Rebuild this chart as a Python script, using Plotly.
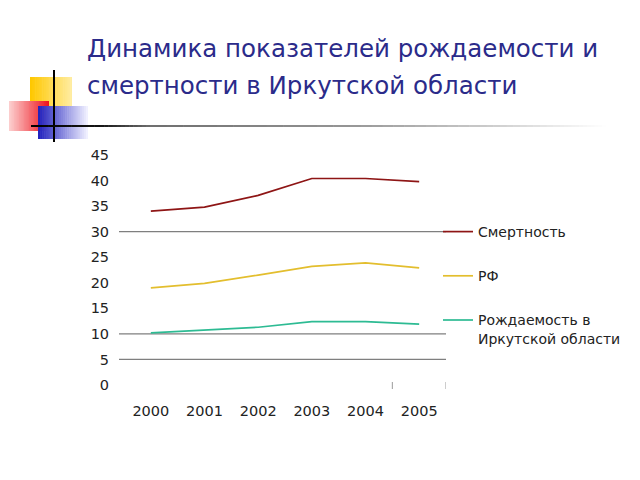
import plotly.graph_objects as go

# ---- data ----
years = ["2000", "2001", "2002", "2003", "2004", "2005"]
mortality = [34.0, 34.8, 37.1, 40.4, 40.4, 39.8]
birth_rf = [19.0, 19.9, 21.5, 23.2, 23.9, 22.9]
birth_irk = [10.2, 10.7, 11.3, 12.4, 12.4, 11.9]
series_names = ["Смертность", "РФ", "Рождаемость в<br>Иркутской области"]
y_ticks = [0, 5, 10, 15, 20, 25, 30, 35, 40, 45]
grid_values = [5, 10, 30]
title_lines = ["Динамика показателей рождаемости и", "смертности в Иркутской области"]

W, H = 640, 480
OFF = 8  # page body margin offset
# plot area in screen pixels: x 124..446, y 155..385
L = 124 - OFF
R = W - (446 - OFF)
T = 155 - OFF
B = H - (385 - OFF)
PW, PH = W - L - R, H - T - B


def px(x):
    return (x - OFF - L) / PW


def py(y):
    return (H - B - (y - OFF)) / PH


FONT = "DejaVu Sans"
colors = ["#8E1515", "#E3BE2E", "#2DBB93"]

fig = go.Figure()
for i, (name, vals) in enumerate(zip(series_names, [mortality, birth_rf, birth_irk])):
    fig.add_trace(go.Scatter(
        x=years, y=vals, name=name, mode="lines",
        line=dict(color=colors[i], width=1.7),
        legendgroup=f"g{i}",
    ))

shapes = []
# gridlines
for g in grid_values:
    shapes.append(dict(type="line", xref="paper", yref="y",
                       x0=px(119), x1=px(446), y0=g, y1=g,
                       line=dict(color="#7f7f7f", width=1.2), layer="below"))
# small category ticks
for c in [4.5, 5.5]:
    shapes.append(dict(type="line", xref="x", yref="paper",
                       x0=c, x1=c, y0=py(382), y1=py(389),
                       line=dict(color="#9a9a9a", width=1)))


def mix(c0, c1, t):
    return tuple(int(round(a + (b - a) * t)) for a, b in zip(c0, c1))


# decoration: gradient squares via overlapping strips
def grad_rect(x0, x1, y0, y1, c_start, c_end, n=24):
    out = []
    step = (x1 - x0) / n
    for k in range(n):
        col = mix(c_start, c_end, k / (n - 1))
        a0 = x0 + step * k
        a1 = a0 + step + 0.6 if k < n - 1 else x1
        out.append(dict(type="rect", xref="paper", yref="paper",
                        x0=px(a0), x1=px(a1), y0=py(y1), y1=py(y0),
                        fillcolor="rgb(%d,%d,%d)" % col, line=dict(width=0)))
    return out


shapes += grad_rect(30, 72, 77, 107, (255, 200, 0), (255, 236, 160))
shapes += grad_rect(9, 49, 101, 131, (252, 205, 205), (238, 20, 30))
shapes += grad_rect(38, 88, 106, 139, (35, 35, 190), (240, 240, 255))
# vertical black line
shapes.append(dict(type="line", xref="paper", yref="paper",
                   x0=px(54), x1=px(54), y0=py(70), y1=py(142),
                   line=dict(color="#000000", width=2)))
# horizontal fading line
stops = [(31, 0), (100, 20), (150, 110), (350, 150), (480, 200), (560, 235), (606, 255)]
for (a, ca), (b, cb) in zip(stops[:-1], stops[1:]):
    n = 12
    for k in range(n):
        xa = a + (b - a) * k / n
        xb = a + (b - a) * (k + 1) / n + 0.5
        c = int(round(ca + (cb - ca) * (k + 0.5) / n))
        shapes.append(dict(type="line", xref="paper", yref="paper",
                           x0=px(xa), x1=px(xb), y0=py(126), y1=py(126),
                           line=dict(color="rgb(%d,%d,%d)" % (c, c, c), width=2)))

annotations = []
for line_txt, yc in zip(title_lines, [48, 85]):
    annotations.append(dict(text=line_txt, xref="paper", yref="paper",
                            x=px(85), y=py(yc), xanchor="left", yanchor="middle",
                            showarrow=False,
                            font=dict(family=FONT, size=24.5, color="#2B2B8A")))

fig.update_layout(
    width=W, height=H,
    margin=dict(l=L, r=R, t=T, b=B),
    paper_bgcolor="white", plot_bgcolor="white",
    showlegend=True,
    legend=dict(x=px(438), y=py(216), xanchor="left", yanchor="top",
                font=dict(family=FONT, size=14, color="#222222"),
                traceorder="grouped", tracegroupgap=23, itemwidth=30,
                valign="top", bgcolor="rgba(0,0,0,0)"),
    xaxis=dict(type="category", range=[-0.5, 5.5], showgrid=False, zeroline=False,
               showline=False, ticks="outside", ticklen=13, tickcolor="rgba(0,0,0,0)",
               tickfont=dict(family=FONT, size=14.5, color="#222222")),
    yaxis=dict(range=[0, 45], tickvals=y_ticks, showgrid=False, zeroline=False,
               showline=False, ticks="outside", ticklen=11, tickcolor="rgba(0,0,0,0)",
               tickfont=dict(family=FONT, size=14.5, color="#222222")),
    shapes=shapes,
    annotations=annotations,
)

fig.write_html("out.html")
